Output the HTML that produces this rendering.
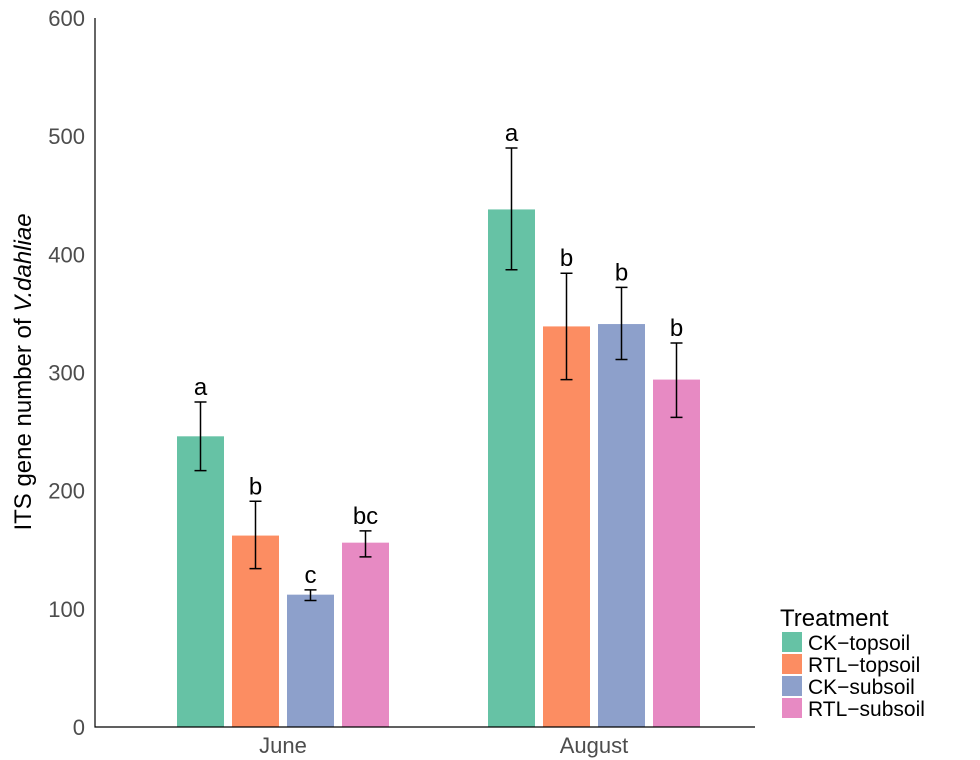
<!DOCTYPE html>
<html><head><meta charset="utf-8"><style>
body{margin:0;background:#fff;}
svg{display:block;font-family:"Liberation Sans",Arial,sans-serif;}
</style></head><body>
<svg id="chart" width="980" height="760"></svg>
<script>
const groups=["June","August"];
const series=["CK\u2212topsoil","RTL\u2212topsoil","CK\u2212subsoil","RTL\u2212subsoil"];
const colors=["#66c2a5","#fc8d62","#8da0cb","#e78ac3"];
const juneValues=[246,162,112,156];
const augustValues=[438,339,341,294];
const juneLow=[217,134,107,144];
const juneHigh=[275,191,116,166];
const augustLow=[387,294,311,262];
const augustHigh=[490,384,372,325];
const juneLetters=["a","b","c","bc"];
const augustLetters=["a","b","b","b"];
const yTicks=[0,100,200,300,400,500,600];

const NS="http://www.w3.org/2000/svg";
const svg=document.getElementById("chart");
function mk(tag,attrs,parent){const e=document.createElementNS(NS,tag);for(const k in attrs)e.setAttribute(k,attrs[k]);(parent||svg).appendChild(e);return e;}
const x0=95,x1=755,yTop=18,yBot=727;
function y(v){return yBot-(v/600)*(yBot-yTop);}
const groupStart=[177,488],barW=47,barStep=55;

yTicks.forEach(t=>{
  const tx=mk("text",{x:x0-10,y:y(t)+8,"text-anchor":"end","font-size":"22",fill:"#4d4d4d"});
  
  
  tx.textContent=t;
});
const vals=[juneValues,augustValues],lows=[juneLow,augustLow],highs=[juneHigh,augustHigh],lets=[juneLetters,augustLetters];
groups.forEach((g,gi)=>{
  series.forEach((s,si)=>{
    const bx=groupStart[gi]+si*barStep;
    const r=mk("rect",{x:bx,y:y(vals[gi][si]),width:barW,height:yBot-y(vals[gi][si]),fill:colors[si]});
    
    
    const cx=bx+barW/2,yl=y(lows[gi][si]),yh=y(highs[gi][si]);
    const eb=mk("path",{d:`M${cx-6},${yh}H${cx+6}M${cx},${yh}V${yl}M${cx-6},${yl}H${cx+6}`,stroke:"#000","stroke-width":"1.5",fill:"none"});
    
    
    const lt=mk("text",{x:cx,y:yh-7,"text-anchor":"middle","font-size":"24",fill:"#000"});
    
    
    lt.textContent=lets[gi][si];
  });
  const gl=mk("text",{x:groupStart[gi]+(3*barStep+barW)/2,y:753,"text-anchor":"middle","font-size":"22",fill:"#4d4d4d"});
  
  
  gl.textContent=g;
});
const ax=mk("path",{d:`M${x0},${yTop}V${yBot}H${x1}`,stroke:"#000","stroke-width":"1.2",fill:"none"});


const yt=mk("text",{transform:"translate(31,372) rotate(-90)","text-anchor":"middle","font-size":"24",fill:"#000"});


yt.innerHTML='ITS gene number of <tspan font-style="italic">V.dahliae</tspan>';
const lg=mk("g",{});


const lt=mk("text",{x:780,y:626,"font-size":"24",fill:"#000"},lg);


lt.textContent="Treatment";
series.forEach((s,i)=>{
  const yy=632+i*22;
  const sw=mk("rect",{x:782,y:yy,width:20,height:20,fill:colors[i]},lg);
  
  
  const t=mk("text",{x:808,y:yy+18,"font-size":"21",fill:"#000"},lg);
  
  
  t.textContent=s;
});
</script>
</body></html>
